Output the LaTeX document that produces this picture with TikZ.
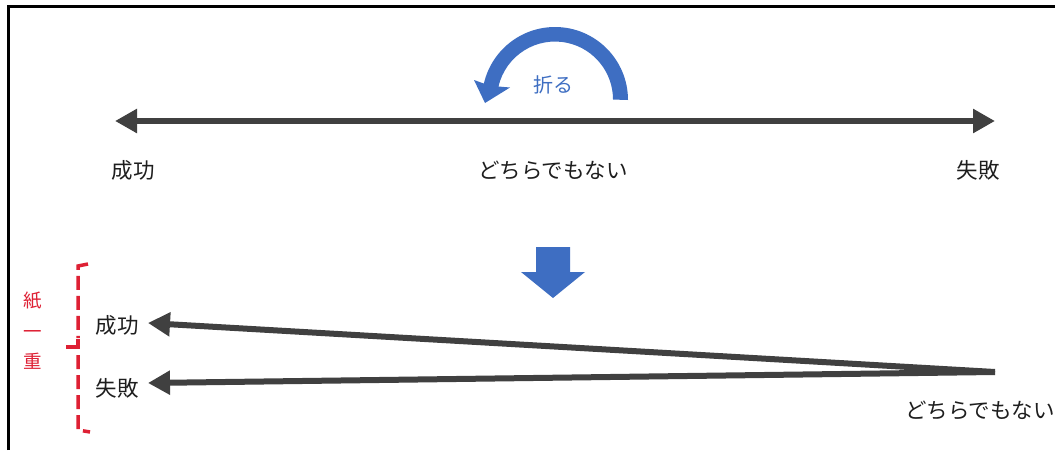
\documentclass[tikz,border=0pt]{standalone}
\usepackage{fontspec}
\newfontfamily\jp{Noto Sans CJK JP}
\usetikzlibrary{arrows.meta}
\definecolor{ink}{RGB}{64,64,64}
\definecolor{txt}{RGB}{30,30,30}
\definecolor{fold}{RGB}{62,110,194}
\definecolor{brk}{RGB}{222,32,52}
\tikzset{
  lbl/.style={font=\jp\fontsize{21.5}{24}\selectfont, text=txt, inner sep=0pt},
  foldlbl/.style={font=\jp\fontsize{20}{22}\selectfont, text=fold, inner sep=0pt},
  redlbl/.style={font=\jp\fontsize{18.5}{30.5}\selectfont, text=brk, inner sep=0pt, align=center},
  bar/.style={draw=ink, line width=6pt},
  head/.style={-{Triangle[length=22pt,width=23pt]}},
  dhead/.style={{Triangle[length=22pt,width=23pt]}-{Triangle[length=22pt,width=23pt]}},
  bluefill/.style={fill=fold, draw=none},
  bracket/.style={draw=brk, line width=3.5pt, dash pattern=on 14pt off 6pt},
  notch/.style={draw=brk, line width=3.5pt}
}
\begin{document}
\begin{tikzpicture}[x=1pt,y=-1pt]
\useasboundingbox (0,0) rectangle (1055,450);
\fill[white] (0,0) rectangle (1055,450);
% frame
\draw[line width=3pt] (8.5,450) -- (8.5,6.5) -- (1055,6.5);

% top double arrow
\coordinate (L1) at (115,121);
\coordinate (R1) at (995,121);
\draw[bar, dhead] (L1) -- (R1);

\node[lbl] (s1) at (133,170) {成功};
\node[lbl] (m1) at (553,170) {どちらでもない};
\node[lbl] (f1) at (978,170) {失敗};

% curved fold arrow
\fill[bluefill] (628,100) arc[start angle=0, end angle=-167, radius=73]
  -- (474,80) -- (485,103) -- (510,87.5) -- (498.5,86.5)
  arc[start angle=-167, end angle=0, radius=58] -- cycle;
\node[foldlbl] (fold) at (553,85) {折る};

% down block arrow
\fill[bluefill] (536,247) -- (570,247) -- (570,272) -- (585,272) -- (553,298)
  -- (521,272) -- (536,272) -- cycle;

% lower arrows
\coordinate (V) at (995,372);
\coordinate (S2) at (148,323);
\coordinate (F2) at (148,383);
\draw[bar, head] (V) -- (S2);
\draw[bar, head] (V) -- (F2);

\node[lbl] (s2) at (117,325) {成功};
\node[lbl] (f2) at (117,388) {失敗};
\node[lbl] (m2) at (980,410) {どちらでもない};

% red bracket
\draw[bracket] (88,264) -- (78,266) -- (78,338);
\draw[notch] (66,347) -- (78,347) -- (78,339);
\draw[bracket] (78,355) -- (78,430) -- (90,432);
\node[redlbl] (kami) at (33,331) {紙\\一\\重};
\end{tikzpicture}
\end{document}
